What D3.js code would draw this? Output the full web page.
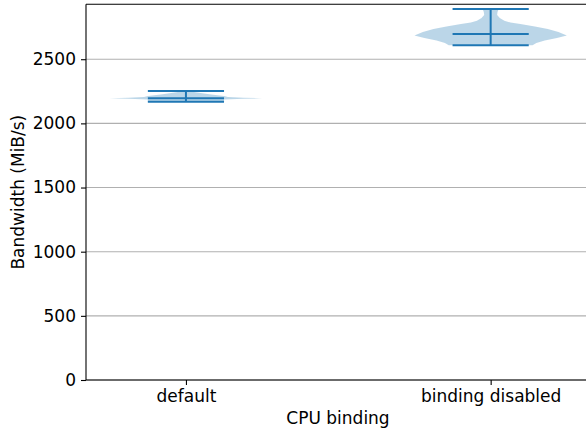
<!DOCTYPE html>
<html>
<head>
<meta charset="utf-8">
<script src="https://cdn.jsdelivr.net/npm/d3@7"></script>
<style>
  html, body { margin: 0; padding: 0; background: #fff; }
  svg { display: block; font-family: "DejaVu Sans", sans-serif; }
</style>
</head>
<body>
<svg id="chart" width="586" height="432"></svg>
<script>
// Groups on the x axis (violin positions 1 and 2)
const categories = ["default", "binding disabled"];
const positions = [1, 2];

// Summary statistics per group (MiB/s)
const minValues = [2168, 2608];
const medianValues = [2195, 2697];
const maxValues = [2252, 2892];

// Density profiles: sample values (MiB/s) and relative half-width (1 = widest)
const defaultProfileValues = [2168, 2187, 2192, 2196, 2200, 2205, 2213, 2225, 2238, 2252];
const defaultProfileWidths = [0.5, 0.5, 0.75, 1.0, 0.75, 0.55, 0.5, 0.33, 0.17, 0.02];
const disabledProfileValues = [2608, 2627, 2645, 2666, 2684, 2712, 2736, 2755, 2775, 2786, 2800, 2822, 2845, 2868, 2892];
const disabledProfileWidths = [0.55, 0.6, 0.71, 0.87, 1.0, 0.89, 0.75, 0.58, 0.39, 0.26, 0.18, 0.12, 0.085, 0.09, 0.105];

// Y axis ticks
const yTicks = [0, 500, 1000, 1500, 2000, 2500];

const profiles = [
  { values: defaultProfileValues, widths: defaultProfileWidths },
  { values: disabledProfileValues, widths: disabledProfileWidths }
];

const svg = d3.select("#chart");
const plot = { left: 86, right: 590.6, top: 4.3, bottom: 380 };
const fontSize = 17;
const blue = "#1f77b4";

const x = d3.scaleLinear().domain([0.672, 2.328]).range([plot.left, plot.right]);
const y = d3.scaleLinear().domain([0, 2928]).range([plot.bottom, plot.top]);

const violinWidth = 0.5;
const halfPx = x(1 + violinWidth / 2) - x(1);

// Horizontal grid lines
svg.append("g")
  .selectAll("line")
  .data(yTicks)
  .join("line")
  .attr("x1", plot.left).attr("x2", plot.right)
  .attr("y1", d => y(d)).attr("y2", d => y(d))
  .attr("stroke", "#b0b0b0")
  .attr("stroke-width", 1.1);

// Violin bodies
profiles.forEach((p, i) => {
  const pts = p.values.map((v, k) => ({ v, w: p.widths[k] }));
  const cx = x(positions[i]);
  const area = d3.area()
    .y(d => y(d.v))
    .x0(d => cx - d.w * halfPx)
    .x1(d => cx + d.w * halfPx)
    .curve(d3.curveLinear);
  svg.append("path")
    .attr("d", area(pts))
    .attr("fill", blue)
    .attr("fill-opacity", 0.3)
    .attr("stroke", "none");
});

// Min / median / max bars and the vertical range line
const lineHalf = halfPx / 2;
const stats = svg.append("g").attr("stroke", blue).attr("stroke-width", 2);
positions.forEach((pos, i) => {
  const cx = x(pos);
  [minValues[i], medianValues[i], maxValues[i]].forEach(v => {
    stats.append("line")
      .attr("x1", cx - lineHalf).attr("x2", cx + lineHalf)
      .attr("y1", y(v)).attr("y2", y(v));
  });
  stats.append("line")
    .attr("x1", cx).attr("x2", cx)
    .attr("y1", y(minValues[i])).attr("y2", y(maxValues[i]));
});

// Axes frame: left, top and bottom spines (the right edge lies past the canvas)
const frame = svg.append("g").attr("stroke", "#000").attr("stroke-width", 1.1).attr("fill", "none");
frame.append("line").attr("x1", plot.left).attr("x2", plot.left).attr("y1", plot.top).attr("y2", plot.bottom);
frame.append("line").attr("x1", plot.left).attr("x2", plot.right).attr("y1", plot.top).attr("y2", plot.top);
frame.append("line").attr("x1", plot.left).attr("x2", plot.right).attr("y1", plot.bottom).attr("y2", plot.bottom);

// Y axis
const yAxis = svg.append("g")
  .attr("transform", `translate(${plot.left},0)`)
  .call(d3.axisLeft(y).tickValues(yTicks).tickSize(5).tickPadding(5).tickFormat(d3.format("d")));
yAxis.select(".domain").remove();
yAxis.selectAll(".tick line").attr("stroke", "#000").attr("stroke-width", 1.1);
yAxis.selectAll(".tick text").attr("font-size", fontSize).attr("font-family", "DejaVu Sans").attr("fill", "#000");

// X axis
const xAxis = svg.append("g")
  .attr("transform", `translate(0,${plot.bottom})`)
  .call(d3.axisBottom(x).tickValues(positions).tickSize(5).tickPadding(5).tickFormat((d, i) => categories[i]));
xAxis.select(".domain").remove();
xAxis.selectAll(".tick line").attr("stroke", "#000").attr("stroke-width", 1.1);
xAxis.selectAll(".tick text").attr("font-size", fontSize).attr("font-family", "DejaVu Sans").attr("fill", "#000");

// Axis titles
svg.append("text")
  .attr("x", 338).attr("y", 424)
  .attr("text-anchor", "middle")
  .attr("font-size", fontSize)
  .text("CPU binding");

svg.append("text")
  .attr("transform", `translate(24,${(plot.top + plot.bottom) / 2}) rotate(-90)`)
  .attr("text-anchor", "middle")
  .attr("font-size", fontSize)
  .text("Bandwidth (MiB/s)");
</script>
</body>
</html>
